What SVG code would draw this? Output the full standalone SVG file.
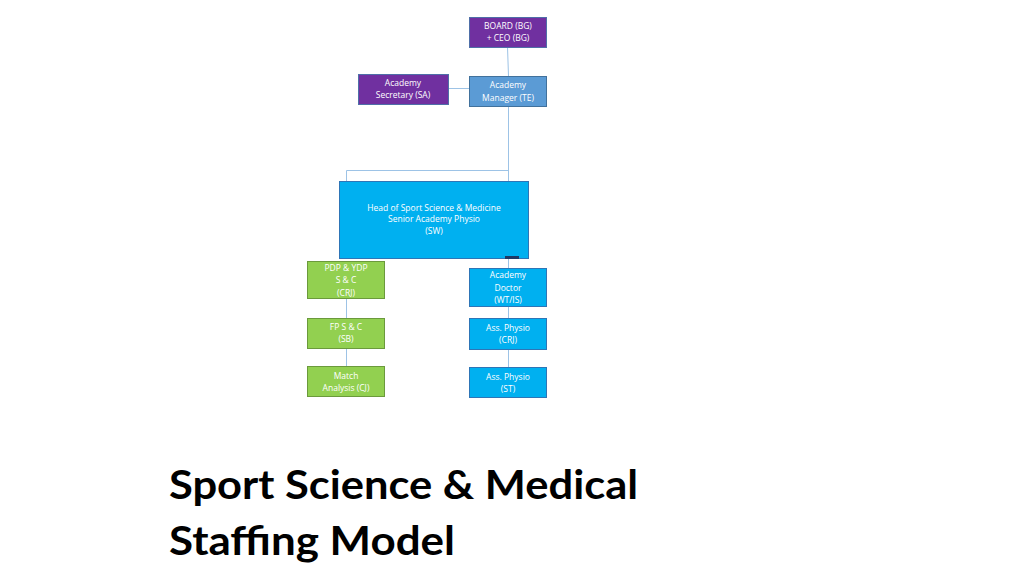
<svg xmlns="http://www.w3.org/2000/svg" width="1024" height="576" viewBox="0 0 1024 576">
<style>
.node rect{stroke-width:1}
.purple rect{fill:#7030A0;stroke:#4F6FA8}
.mblue rect{fill:#5B9BD5;stroke:#41719C}
.cyan rect{fill:#00B0F0;stroke:#2E75B6}
.green rect{fill:#92D050;stroke:#6B9A3C}
.node text{font-family:"Open Sans","Liberation Sans",sans-serif;font-size:8.5px;fill:#ffffff;text-anchor:middle}
.conn line,.conn polyline{stroke:#9DC3E6;stroke-width:1;fill:none}
.title{font-family:Lato,"Open Sans",sans-serif;font-weight:bold;font-size:41px;fill:#000}
</style>
<rect width="1024" height="576" fill="#ffffff"/>
<g id="connectors" class="conn">
<line x1="507.5" y1="47" x2="508.5" y2="76"/>
<line x1="448" y1="88.5" x2="469" y2="88.5"/>
<polyline points="508.5,106 508.5,170.5 346.5,170.5 346.5,181"/>
<line x1="508.5" y1="170" x2="508.5" y2="181"/>
<line x1="508.5" y1="258" x2="508.5" y2="268"/>
<line x1="346.5" y1="298" x2="346.5" y2="318"/>
<line x1="346.5" y1="348" x2="346.5" y2="366"/>
<line x1="508.5" y1="306" x2="508.5" y2="318"/>
<line x1="508.5" y1="349" x2="508.5" y2="367"/>
</g>
<g id="board" class="node purple"><rect x="469.5" y="17.5" width="77" height="30"/><text x="508" y="29">BOARD (BG)</text><text x="508" y="41">+ CEO (BG)</text></g>
<g id="secretary" class="node purple"><rect x="358.5" y="74.5" width="90" height="30"/><text x="403" y="86">Academy</text><text x="403" y="98">Secretary (SA)</text></g>
<g id="manager" class="node mblue"><rect x="469.5" y="76.5" width="77" height="30"/><text x="508" y="88">Academy</text><text x="508" y="101">Manager (TE)</text></g>
<g id="head" class="node cyan"><rect x="339.5" y="181.5" width="189" height="77"/><text x="434" y="211">Head of Sport Science &amp; Medicine</text><text x="434" y="222">Senior Academy Physio</text><text x="434" y="234">(SW)</text></g>
<rect x="505" y="256" width="14" height="3" fill="#1F3864"/>
<g id="pdp" class="node green"><rect x="307.5" y="261.5" width="77" height="37"/><text x="346" y="271">PDP &amp; YDP</text><text x="346" y="283">S &amp; C</text><text x="346" y="296">(CRJ)</text></g>
<g id="fp" class="node green"><rect x="307.5" y="318.5" width="77" height="30"/><text x="346" y="330">FP S &amp; C</text><text x="346" y="342">(SB)</text></g>
<g id="match" class="node green"><rect x="307.5" y="366.5" width="77" height="30"/><text x="346" y="379">Match</text><text x="346" y="391">Analysis (CJ)</text></g>
<g id="doctor" class="node cyan"><rect x="469.5" y="268.5" width="77" height="38"/><text x="508" y="278">Academy</text><text x="508" y="291">Doctor</text><text x="508" y="303">(WT/IS)</text></g>
<g id="physio1" class="node cyan"><rect x="469.5" y="318.5" width="77" height="31"/><text x="508" y="331">Ass. Physio</text><text x="508" y="343">(CRJ)</text></g>
<g id="physio2" class="node cyan"><rect x="469.5" y="367.5" width="77" height="30"/><text x="508" y="380">Ass. Physio</text><text x="508" y="392">(ST)</text></g>
<text class="title" x="169" y="499" textLength="469" lengthAdjust="spacingAndGlyphs">Sport Science &amp; Medical</text>
<text class="title" x="169" y="555" textLength="286" lengthAdjust="spacingAndGlyphs">Staffing Model</text>
</svg>
